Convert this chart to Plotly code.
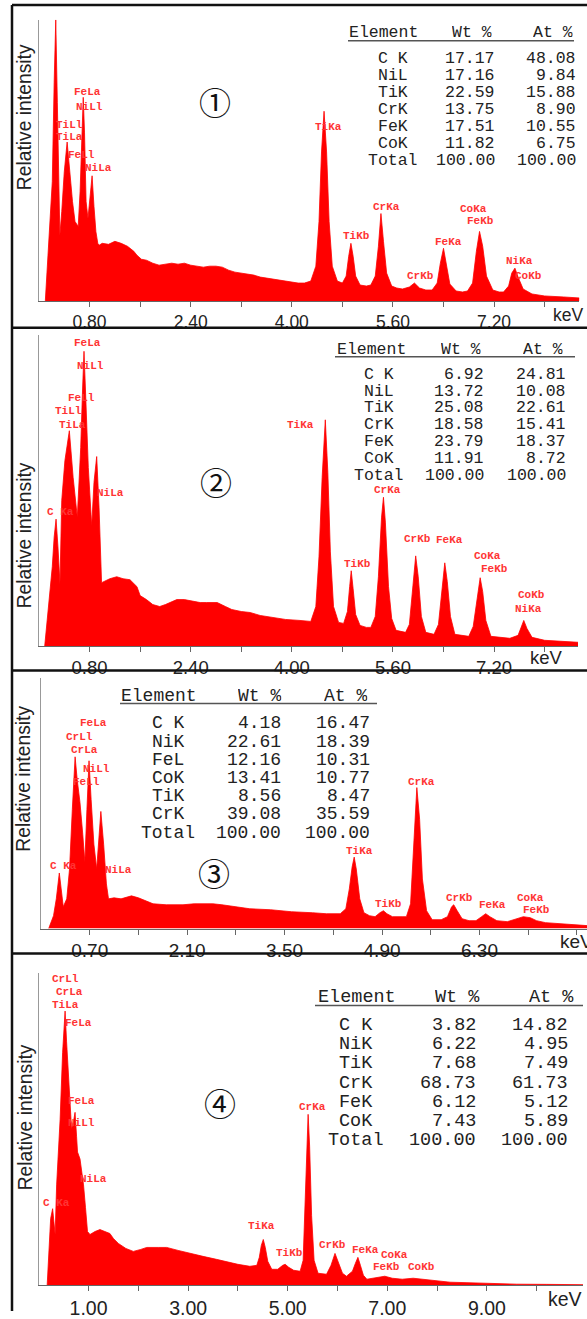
import plotly.graph_objects as go

W, H = 587, 1319

# ---------------- data (energy keV, relative intensity) ----------------
p1_spectrum = [
    (0.10, 0), (0.13, 30), (0.17, 70), (0.21, 120), (0.24, 220), (0.265, 283), (0.29, 200), (0.31, 120),
    (0.33, 66), (0.36, 90), (0.40, 130), (0.445, 160), (0.48, 135), (0.53, 100), (0.57, 80), (0.62, 75),
    (0.65, 110), (0.68, 170), (0.70, 205), (0.72, 170), (0.745, 100), (0.775, 83), (0.81, 105), (0.84, 126),
    (0.87, 95), (0.90, 70), (0.93, 58), (0.95, 56), (1.00, 58), (1.10, 57), (1.20, 60), (1.30, 58),
    (1.40, 55), (1.50, 50), (1.55, 46), (1.62, 42), (1.70, 41), (1.80, 38), (1.90, 36), (2.00, 37),
    (2.10, 38), (2.20, 37), (2.30, 38), (2.40, 36), (2.50, 35), (2.60, 34), (2.70, 35), (2.80, 35),
    (2.90, 34), (3.00, 31), (3.10, 29), (3.20, 28), (3.30, 27), (3.40, 26), (3.50, 24), (3.60, 23),
    (3.70, 22), (3.80, 21), (3.90, 20), (4.00, 19), (4.10, 18), (4.20, 18), (4.30, 20), (4.38, 35),
    (4.43, 80), (4.47, 150), (4.51, 191), (4.55, 150), (4.59, 80), (4.64, 35), (4.72, 20), (4.80, 18),
    (4.86, 25), (4.90, 45), (4.935, 58), (4.97, 45), (5.01, 25), (5.08, 16), (5.18, 15), (5.25, 16),
    (5.32, 25), (5.37, 55), (5.41, 88), (5.45, 60), (5.50, 28), (5.58, 15), (5.66, 13), (5.75, 12),
    (5.86, 14), (5.94, 18), (6.02, 13), (6.12, 11), (6.22, 11), (6.30, 18), (6.35, 38), (6.40, 53),
    (6.44, 38), (6.50, 17), (6.60, 10), (6.70, 9), (6.78, 10), (6.86, 18), (6.92, 50), (6.97, 70),
    (7.02, 55), (7.08, 25), (7.18, 11), (7.28, 9), (7.35, 9), (7.43, 15), (7.48, 28), (7.53, 33),
    (7.58, 24), (7.66, 12), (7.80, 7), (8.00, 5), (8.30, 4), (8.55, 3),
]
p2_spectrum = [
    (0.09, 0), (0.13, 25), (0.17, 50), (0.21, 80), (0.24, 110), (0.27, 128), (0.30, 100), (0.332, 63),
    (0.36, 147), (0.41, 187), (0.48, 217), (0.54, 170), (0.606, 130), (0.66, 200), (0.69, 260), (0.712, 297),
    (0.74, 250), (0.78, 180), (0.834, 121), (0.87, 165), (0.913, 191), (0.95, 140), (0.99, 64), (1.05, 66),
    (1.12, 68), (1.23, 70), (1.33, 68), (1.44, 67), (1.55, 60), (1.60, 51), (1.70, 47), (1.80, 42),
    (1.91, 40), (2.00, 42), (2.10, 45), (2.18, 47), (2.30, 47), (2.40, 46), (2.55, 44), (2.65, 44),
    (2.82, 44), (2.95, 40), (3.05, 37), (3.20, 35), (3.34, 34), (3.50, 31), (3.70, 29), (3.90, 27),
    (4.13, 26), (4.30, 25), (4.38, 40), (4.43, 90), (4.48, 170), (4.53, 228), (4.57, 175), (4.61, 95),
    (4.66, 40), (4.74, 24), (4.82, 23), (4.88, 35), (4.915, 60), (4.94, 76), (4.97, 58), (5.01, 32),
    (5.08, 21), (5.18, 19), (5.25, 19), (5.32, 30), (5.37, 70), (5.42, 130), (5.45, 150), (5.48, 125),
    (5.53, 60), (5.58, 28), (5.65, 16), (5.80, 14), (5.86, 22), (5.91, 55), (5.96, 91), (6.00, 70),
    (6.05, 30), (6.12, 14), (6.25, 12), (6.32, 22), (6.37, 55), (6.42, 84), (6.46, 65), (6.51, 30),
    (6.58, 12), (6.70, 11), (6.80, 10), (6.87, 20), (6.93, 48), (6.98, 69), (7.02, 55), (7.07, 26),
    (7.15, 10), (7.30, 9), (7.45, 8), (7.58, 11), (7.63, 20), (7.67, 26), (7.72, 18), (7.80, 9),
    (8.00, 6), (8.30, 5), (8.53, 4),
]
p3_spectrum = [
    (0.11, 0), (0.15, 8), (0.18, 13), (0.22, 30), (0.263, 56), (0.29, 40), (0.32, 22), (0.37, 30),
    (0.41, 60), (0.45, 120), (0.49, 173), (0.52, 150), (0.56, 127), (0.60, 95), (0.63, 67), (0.66, 120),
    (0.69, 169), (0.72, 130), (0.76, 85), (0.80, 60), (0.83, 95), (0.86, 118), (0.90, 85), (0.94, 45),
    (0.97, 30), (1.05, 31), (1.15, 30), (1.30, 33), (1.40, 31), (1.50, 28), (1.61, 25), (1.80, 24),
    (2.04, 24), (2.20, 25), (2.47, 25), (2.60, 24), (2.80, 22), (3.00, 20), (3.30, 19), (3.60, 17),
    (3.90, 16), (4.10, 15), (4.30, 15), (4.38, 20), (4.43, 40), (4.47, 62), (4.50, 72), (4.53, 60),
    (4.58, 30), (4.64, 16), (4.72, 13), (4.80, 12), (4.87, 16), (4.92, 18), (4.97, 15), (5.05, 12),
    (5.20, 12), (5.25, 12), (5.31, 25), (5.35, 75), (5.40, 142), (5.44, 110), (5.48, 50), (5.54, 18),
    (5.62, 9), (5.75, 9), (5.84, 12), (5.90, 22), (5.93, 24), (5.98, 18), (6.05, 10), (6.15, 8),
    (6.25, 8), (6.33, 12), (6.39, 15), (6.45, 12), (6.55, 8), (6.70, 7), (6.82, 10), (6.93, 12),
    (7.03, 11), (7.12, 8), (7.25, 6), (7.45, 5), (7.65, 4), (7.85, 3),
]
p4_spectrum = [
    (0.17, 0), (0.21, 40), (0.24, 67), (0.28, 77), (0.31, 60), (0.33, 51), (0.36, 101), (0.43, 167),
    (0.48, 234), (0.53, 276), (0.56, 245), (0.60, 205), (0.66, 157), (0.70, 165), (0.73, 174), (0.76, 150),
    (0.78, 134), (0.83, 127), (0.86, 115), (0.90, 101), (0.94, 78), (0.98, 54), (1.03, 51), (1.13, 54),
    (1.23, 56), (1.33, 54), (1.43, 52), (1.50, 47), (1.60, 42), (1.75, 37), (1.90, 34), (2.05, 36),
    (2.17, 38), (2.40, 38), (2.57, 38), (2.80, 35), (3.10, 31), (3.30, 29), (3.57, 26), (3.80, 23),
    (4.00, 21), (4.24, 19), (4.38, 20), (4.43, 28), (4.47, 40), (4.51, 46), (4.55, 38), (4.60, 24),
    (4.68, 16), (4.80, 16), (4.90, 20), (4.95, 21), (5.02, 18), (5.12, 15), (5.25, 14), (5.31, 25),
    (5.35, 80), (5.38, 140), (5.41, 172), (5.44, 140), (5.48, 70), (5.53, 25), (5.61, 12), (5.78, 11),
    (5.87, 20), (5.95, 32), (6.02, 22), (6.10, 12), (6.18, 9), (6.30, 14), (6.36, 22), (6.41, 28),
    (6.46, 20), (6.52, 10), (6.59, 6), (6.75, 7), (6.95, 9), (7.10, 7), (7.30, 6), (7.52, 7),
    (7.70, 6), (8.00, 4), (8.26, 3), (8.60, 2.5), (8.92, 2), (9.30, 1.5), (9.60, 1), (10.20, 0.8),
    (10.93, 0.5),
]

# peak labels: (text, energy keV, intensity)
p1_labels = [("C Ka", 0.33, 286), ("FeLa", 0.76, 210), ("NiLl", 0.80, 195), ("TiLl", 0.49, 177),
             ("TiLa", 0.49, 165), ("FeLl", 0.675, 147), ("NiLa", 0.94, 134), ("TiKa", 4.58, 175),
             ("TiKb", 5.02, 65), ("CrKa", 5.50, 95), ("CrKb", 6.03, 25), ("FeKa", 6.48, 59),
             ("CoKa", 6.87, 93), ("FeKb", 6.99, 80), ("NiKa", 7.60, 40), ("CoKb", 7.75, 25)]
p2_labels = [("FeLa", 0.77, 305), ("NiLl", 0.81, 282), ("FeLl", 0.68, 250), ("TiLl", 0.47, 237),
             ("TiLa", 0.53, 223), ("NiLa", 1.13, 154), ("C Ka", 0.34, 135), ("TiKa", 4.14, 223),
             ("TiKb", 5.04, 83), ("CrKa", 5.52, 157), ("CrKb", 5.99, 108), ("FeKa", 6.50, 107),
             ("CoKa", 7.09, 91), ("FeKb", 7.21, 78), ("CoKb", 7.79, 52), ("NiKa", 7.75, 38)]
p3_labels = [("FeLa", 0.757, 207), ("CrLl", 0.556, 193), ("CrLa", 0.63, 180), ("NiLl", 0.795, 161),
             ("FeLl", 0.656, 148), ("C Ka", 0.326, 63), ("NiLa", 1.11, 59), ("CrKa", 5.47, 148),
             ("TiKa", 4.58, 78), ("TiKb", 4.995, 25), ("CrKb", 6.01, 31), ("FeKa", 6.49, 24),
             ("CoKa", 7.04, 31), ("FeKb", 7.12, 19)]
p4_labels = [("FeLl", 0.655, 321), ("CrLl", 0.544, 308), ("CrLa", 0.62, 295), ("TiLa", 0.544, 282),
             ("FeLa", 0.795, 264), ("FeLa", 0.863, 185), ("NiLl", 0.863, 163), ("NiLa", 1.096, 107),
             ("C Ka", 0.367, 83), ("TiKa", 4.48, 60), ("TiKb", 5.04, 32), ("CrKa", 5.49, 179),
             ("CrKb", 5.905, 40), ("FeKa", 6.56, 35), ("CoKa", 7.15, 30), ("FeKb", 6.98, 18),
             ("CoKb", 7.68, 18)]

# composition tables
t1_elements = ["C K", "NiL", "TiK", "CrK", "FeK", "CoK", "Total"]
t1_wt = ["17.17", "17.16", "22.59", "13.75", "17.51", "11.82", "100.00"]
t1_at = ["48.08", "9.84", "15.88", "8.90", "10.55", "6.75", "100.00"]
t2_elements = ["C K", "NiL", "TiK", "CrK", "FeK", "CoK", "Total"]
t2_wt = ["6.92", "13.72", "25.08", "18.58", "23.79", "11.91", "100.00"]
t2_at = ["24.81", "10.08", "22.61", "15.41", "18.37", "8.72", "100.00"]
t3_elements = ["C K", "NiK", "FeL", "CoK", "TiK", "CrK", "Total"]
t3_wt = ["4.18", "22.61", "12.16", "13.41", "8.56", "39.08", "100.00"]
t3_at = ["16.47", "18.39", "10.31", "10.77", "8.47", "35.59", "100.00"]
t4_elements = ["C K", "NiK", "TiK", "CrK", "FeK", "CoK", "Total"]
t4_wt = ["3.82", "6.22", "7.68", "68.73", "6.12", "7.43", "100.00"]
t4_at = ["14.82", "4.95", "7.49", "61.73", "5.12", "5.89", "100.00"]
table_headers = ["Element", "Wt %", "At %"]

panel_marks = ["①", "②", "③", "④"]
x_unit = "keV"
y_title = "Relative intensity"

# ---------------- layout (pixel geometry) ----------------
def px(x):
    return x / W

def py(y):
    return 1 - y / H

panels = [
    dict(spec=p1_spectrum, labels=p1_labels, xl=39, xr=579.4, xmax=8.55, base=303, top=20, step=0.8,
         tf=17.5, title=(24, 118), mark=(215, 101.7), kev=(568, 317),
         table=(t1_elements, t1_wt, t1_at),
         tg=dict(hy=33, uy=41, ux=(348, 574), y0=59.3, dy=17.05, ec=393, hec=383, wr=497, hwc=472, ar=578, hac=553, fs=16.5)),
    dict(spec=p2_spectrum, labels=p2_labels, xl=39, xr=578, xmax=8.528, base=650.7, top=337, step=0.8,
         tf=18.5, title=(24, 539), mark=(216, 484), kev=(546.5, 662),
         table=(t2_elements, t2_wt, t2_at),
         tg=dict(hy=351.7, uy=359.3, ux=(335, 575), y0=376.7, dy=17.05, ec=379, hec=371, wr=485.7, hwc=461, ar=568.3, hac=543, fs=16.5)),
    dict(spec=p3_spectrum, labels=p3_labels, xl=41, xr=587, xmax=7.845, base=935, top=683, step=0.7,
         tf=19, title=(24, 784), mark=(214.3, 878.3), kev=(576, 948),
         table=(t3_elements, t3_wt, t3_at),
         tg=dict(hy=701, uy=708.3, ux=(120, 377), y0=728.3, dy=18.33, ec=168, hec=159, wr=282.7, hwc=259, ar=371.7, hac=345, fs=18)),
    dict(spec=p4_spectrum, labels=p4_labels, xl=38.7, xr=583, xmax=10.93, base=1294, top=980, step=1.0,
         tf=19.5, title=(25, 1125), mark=(220, 1110), kev=(564.7, 1307.5),
         table=(t4_elements, t4_wt, t4_at),
         tg=dict(hy=1004.3, uy=1012.3, ux=(315, 583), y0=1032.7, dy=19.27, ec=356, hec=356.7, wr=478.3, hwc=457.5, ar=570, hac=551.7, fs=18.5)),
]

RED = "#ff0000"
LABEL_RED = "#ff3434"
TXT = "#222222"
SANS = "Liberation Sans, Arial, sans-serif"
MONO = "Liberation Mono, Courier New, monospace"

fig = go.Figure()
annotations = []
shapes = []
layout_axes = {}

for i, p in enumerate(panels, start=1):
    xs = [e for e, _ in p["spec"]]
    ys = [v for _, v in p["spec"]]
    xa = "x" if i == 1 else f"x{i}"
    ya = "y" if i == 1 else f"y{i}"
    fig.add_trace(go.Scatter(x=xs, y=ys, mode="lines", line=dict(color=RED, width=0.8),
                             fill="tozeroy", fillcolor=RED, xaxis=xa, yaxis=ya,
                             hoverinfo="skip", showlegend=False))
    n = int(round(p["xmax"] / p["step"] + 1e-6))
    tickvals = [round(k * p["step"], 4) for k in range(1, n + 1) if k * p["step"] <= p["xmax"] + 1e-9]
    ticktext = [f"{v:.2f}" if k % 2 == 1 else "" for k, v in enumerate(tickvals, start=1)]
    xkey = "xaxis" if i == 1 else f"xaxis{i}"
    ykey = "yaxis" if i == 1 else f"yaxis{i}"
    layout_axes[xkey] = dict(domain=[px(p["xl"]), min(1.0, px(p["xr"]))], range=[0, p["xmax"]],
                             anchor=ya, showline=True, linecolor="#666", linewidth=1,
                             ticks="outside", ticklen=5, tickcolor="#666", tickwidth=1,
                             tickvals=tickvals, ticktext=ticktext, showgrid=False, zeroline=False,
                             tickfont=dict(family=SANS, size=p["tf"], color=TXT), fixedrange=True)
    h = p["base"] - p["top"]
    layout_axes[ykey] = dict(domain=[py(p["base"]), py(p["top"])], range=[0, h], anchor=xa,
                             showline=True, linecolor="#999", linewidth=1, ticks="",
                             showticklabels=False, showgrid=False, zeroline=False, fixedrange=True)
    # peak labels
    for txt, e, v in p["labels"]:
        annotations.append(dict(x=e, y=v, xref=xa, yref=ya, text=txt, showarrow=False,
                                xanchor="center", yanchor="middle",
                                font=dict(family=MONO, size=11, color=LABEL_RED, weight="bold")))
    # y title
    annotations.append(dict(x=px(p["title"][0]), y=py(p["title"][1]), xref="paper", yref="paper",
                            text=y_title, textangle=-90, showarrow=False, xanchor="center",
                            yanchor="middle", font=dict(family=SANS, size=19.3, color=TXT)))
    # circled panel number
    annotations.append(dict(x=px(p["mark"][0]), y=py(p["mark"][1]), xref="paper", yref="paper",
                            text=panel_marks[i - 1], showarrow=False, xanchor="center", yanchor="middle",
                            font=dict(family="Noto Sans CJK JP", size=32, color="#111")))
    # keV unit
    annotations.append(dict(x=px(p["kev"][0]), y=py(p["kev"][1]), xref="paper", yref="paper",
                            text=x_unit, showarrow=False, xanchor="center", yanchor="middle",
                            font=dict(family=SANS, size=p["tf"], color=TXT)))
    # table
    g = p["tg"]
    els, wts, ats = p["table"]
    tfont = dict(family=MONO, size=g["fs"], color=TXT)
    rowh = g["dy"] - 0.5
    for txt, cx in zip(table_headers, [g["hec"], g["hwc"], g["hac"]]):
        annotations.append(dict(x=px(cx), y=py(g["hy"]), xref="paper", yref="paper", text=txt,
                                showarrow=False, xanchor="center", yanchor="middle", font=tfont,
                                height=rowh))
    shapes.append(dict(type="line", xref="paper", yref="paper", x0=px(g["ux"][0]), x1=px(g["ux"][1]),
                       y0=py(g["uy"]), y1=py(g["uy"]), line=dict(color="#555", width=1.5)))
    for r, (el, wt, at) in enumerate(zip(els, wts, ats)):
        yy = py(g["y0"] + r * g["dy"])
        annotations.append(dict(x=px(g["ec"]), y=yy, xref="paper", yref="paper", text=el,
                                showarrow=False, xanchor="center", yanchor="middle", font=tfont,
                                height=rowh))
        annotations.append(dict(x=px(g["wr"]), y=yy, xref="paper", yref="paper", text=wt,
                                showarrow=False, xanchor="right", yanchor="middle", font=tfont,
                                height=rowh))
        annotations.append(dict(x=px(g["ar"]), y=yy, xref="paper", yref="paper", text=at,
                                showarrow=False, xanchor="right", yanchor="middle", font=tfont,
                                height=rowh))

# panel frames
border = dict(color="#111", width=2.5)
shapes.append(dict(type="line", xref="paper", yref="paper", x0=px(12), x1=px(12), y0=py(5), y1=py(1320),
                   line=border))
for yb in [5, 330, 675, 960]:
    shapes.append(dict(type="line", xref="paper", yref="paper", x0=px(12), x1=1.02, y0=py(yb), y1=py(yb),
                       line=border))

fig.update_layout(width=W, height=H, margin=dict(l=0, r=0, t=0, b=0), paper_bgcolor="white",
                  plot_bgcolor="white", showlegend=False, annotations=annotations, shapes=shapes,
                  **layout_axes)

fig.write_html("out.html", config=dict(displayModeBar=False, staticPlot=True),
               post_script="document.body.style.margin='0';document.body.style.padding='0';")
